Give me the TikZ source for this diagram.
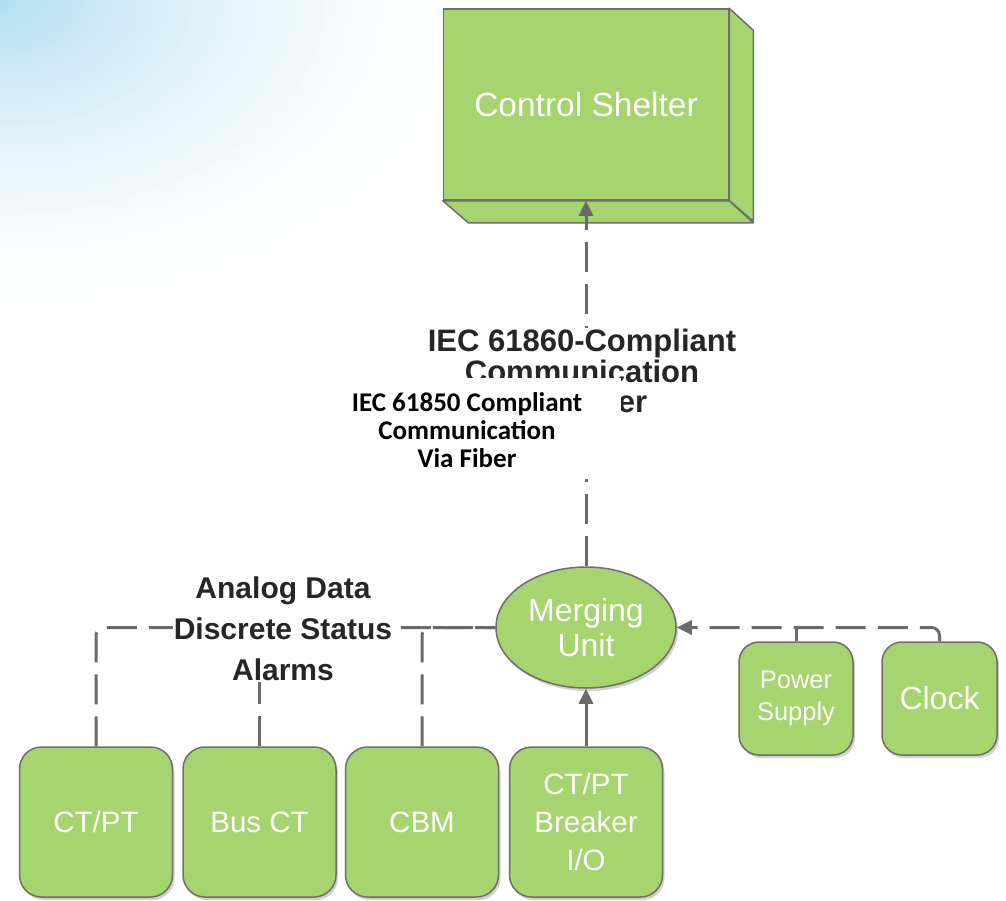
\documentclass[tikz,border=0pt]{standalone}
\usepackage{fontspec}
\setmainfont{Liberation Sans}
\newfontfamily\calib{Carlito}
\usetikzlibrary{arrows.meta,shapes.geometric,shadows}
\definecolor{boxgreen}{HTML}{A6D46F}
\definecolor{edgegray}{HTML}{6E6E6E}
\definecolor{linegray}{HTML}{6A6A6A}
\definecolor{skyblue}{HTML}{B4DEF2}
\definecolor{labelink}{HTML}{262626}
\begin{document}
\begin{tikzpicture}[x=1pt,y=-1pt,
  shadowed/.style={drop shadow={shadow xshift=2pt,shadow yshift=-3pt,fill=black,opacity=0.18}},
  greenfill/.style={draw=edgegray,line width=1.5pt,fill=boxgreen},
  devbox/.style={greenfill,rounded corners=22pt,minimum width=153pt,minimum height=150pt,
    text=white,font=\fontsize{29.5}{38}\selectfont,align=center,inner sep=0pt,shadowed},
  smallbox/.style={devbox,minimum width=114pt,minimum height=113pt,rounded corners=20pt},
  conn/.style={draw=linegray,line width=3pt,dash pattern=on 30pt off 12pt},
  solidconn/.style={draw=linegray,line width=3pt},
  tipend/.style={-{Triangle[length=15pt,width=14pt]}},
  graylabel/.style={fill=white,inner sep=1pt,align=center,text=labelink,font=\bfseries\fontsize{30}{41}\selectfont}
]
\useasboundingbox (0,0) rectangle (1006,900);
% background tint: nested ellipses from pale to stronger blue
\begin{scope}
  \clip (0,0) rectangle (1006,900);
  \foreach \k in {1,...,60}{
    \pgfmathsetmacro\rr{1-(\k-1)/60}
    \pgfmathtruncatemacro\pc{100*((\k-1)/59)^1.7}
    \fill[skyblue!\pc!white] (0,0) ellipse [x radius=\rr*500pt, y radius=\rr*330pt];
  }
\end{scope}

% control shelter (3D box)
\node[greenfill,minimum width=285pt,minimum height=191pt,inner sep=0pt,text=white,
      font=\fontsize{33.5}{38}\selectfont] (cs) at (586,104.5) {Control Shelter};
\filldraw[greenfill,line join=round] (cs.north east) -- ++(24,22) -- ++(0,191) -- (cs.south east) -- cycle;
\filldraw[greenfill,line join=round] (cs.south west) -- (cs.south east) -- ++(24,22) -- ++(-285,0) -- cycle;

% merging unit
\node[ellipse,greenfill,minimum width=180pt,minimum height=121pt,inner sep=0pt,text=white,
      align=center,font=\fontsize{32}{35}\selectfont,shadowed] (mu) at (586,627.5) {Merging\\Unit};

% devices
\node[devbox] (ctpt) at (96,822) {CT/PT};
\node[devbox] (busct) at (259.5,822) {Bus CT};
\node[devbox] (cbm) at (422,822) {CBM};
\node[devbox] (brk) at (586,822) {CT/PT\\Breaker\\I/O};
\node[smallbox,font=\fontsize{25.5}{32}\selectfont] (ps) at (796,698.5) {Power\\Supply};
\node[smallbox,minimum width=115pt,font=\fontsize{32}{36}\selectfont] (clk) at (939.5,698.5) {Clock};

% connectors
\draw[conn,tipend] (mu.north) -- (cs.south);
\draw[solidconn,tipend] (brk.north) -- (mu.south);
\draw[conn,rounded corners=8pt] (ctpt.north) |- (mu.west);
\draw[conn,rounded corners=8pt] (cbm.north) |- (mu.west);
\draw[conn] (busct.north) -- (busct.north |- mu.west);
\draw[conn,rounded corners=8pt] (clk.north) |- ([xshift=16pt]mu.east);
\draw[conn,tipend] ([xshift=18pt]mu.east) -- (mu.east);
\draw[conn] (ps.north) -- (ps.north |- mu.east);

% labels
\node[graylabel,font=\bfseries\fontsize{31}{30.5}\selectfont] (oldlbl) at (582,371)
  {IEC 61860-Compliant\\Communication\\Via Fiber};
\fill[white] (313,378) rectangle (621,479);
\node[align=center,text=black,font=\calib\bfseries\fontsize{27}{28}\selectfont] (newlbl) at (467,430)
  {IEC 61850 Compliant\\Communication\\Via Fiber};
\node[graylabel] (alabel) at (283,629) {Analog Data\\Discrete Status\\Alarms};
\end{tikzpicture}
\end{document}
